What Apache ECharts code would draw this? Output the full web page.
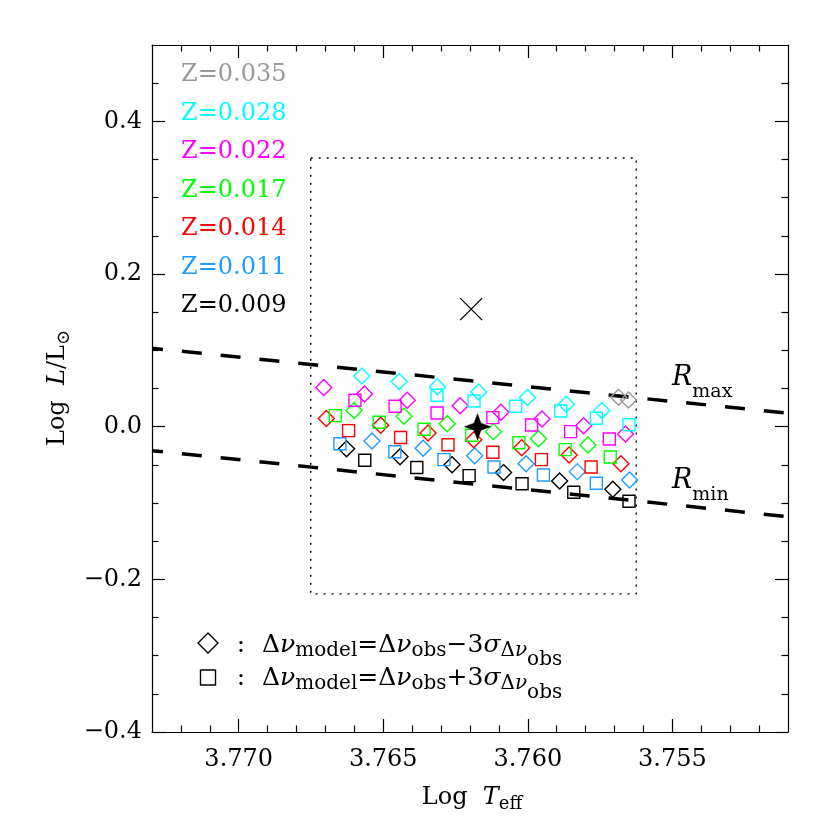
<!DOCTYPE html>
<html><head><meta charset="utf-8">
<script src="https://cdn.jsdelivr.net/npm/echarts@6/dist/echarts.min.js"></script>
<style>html,body{margin:0;padding:0;background:#fff}#c{width:830px;height:830px}</style>
</head><body><div id="c"></div>
<script>
// ---------- axes ----------
const xRange = [3.751, 3.773];
const yRange = [-0.4, 0.5];
const xMajorTicks = [3.755, 3.760, 3.765, 3.770];
const xMinorTicks = [3.752,3.753,3.754,3.756,3.757,3.758,3.759,3.761,3.762,3.763,3.764,3.766,3.767,3.768,3.769,3.771,3.772];
const yMajorTicks = [-0.4, -0.2, 0.0, 0.2, 0.4];
const yMinorTicks = [-0.35,-0.3,-0.25,-0.15,-0.1,-0.05,0.05,0.1,0.15,0.25,0.3,0.35,0.45];

// ---------- metallicity groups ----------
const zLabels = ['Z=0.035','Z=0.028','Z=0.022','Z=0.017','Z=0.014','Z=0.011','Z=0.009'];
const zColors = ['#999999','#00ffff','#ff00ff','#00ff00','#ff0000','#1e9bff','#000000'];

// [log Teff, log L/Lsun]
const z035Diamonds = [[3.75686,0.0386],[3.75652,0.0350]];
const z035Squares = [];
const z028Diamonds = [[3.76574,0.0664],[3.76445,0.0592],[3.76313,0.0524],[3.76170,0.0454],[3.76001,0.0382],[3.75867,0.0293],[3.75744,0.0212]];
const z028Squares = [[3.76314,0.0411],[3.76186,0.0337],[3.76042,0.0267],[3.75886,0.0206],[3.75763,0.0110],[3.75650,0.0025]];
const z022Diamonds = [[3.76706,0.0513],[3.76565,0.0428],[3.76417,0.0347],[3.76234,0.0274],[3.76093,0.0189],[3.75951,0.0101],[3.75807,0.0013],[3.75662,-0.0096]];
const z022Squares = [[3.76598,0.0346],[3.76459,0.0267],[3.76314,0.0179],[3.76121,0.0118],[3.75987,0.0022],[3.75852,-0.0065],[3.75718,-0.0161]];
const z017Diamonds = [[3.76601,0.0212],[3.76428,0.0136],[3.76279,0.0039],[3.76119,-0.0065],[3.75963,-0.0157],[3.75792,-0.0240]];
const z017Squares = [[3.76666,0.0144],[3.76514,0.0058],[3.76359,-0.0034],[3.76194,-0.0113],[3.76031,-0.0210],[3.75871,-0.0301],[3.75715,-0.0397]];
const z014Diamonds = [[3.76697,0.0107],[3.76509,0.0020],[3.76345,-0.0083],[3.76187,-0.0172],[3.76021,-0.0275],[3.75857,-0.0371],[3.75678,-0.0485]];
const z014Squares = [[3.76620,-0.0052],[3.76440,-0.0141],[3.76276,-0.0237],[3.76121,-0.0335],[3.75953,-0.0432],[3.75781,-0.0528]];
const z011Diamonds = [[3.76539,-0.0187],[3.76362,-0.0282],[3.76184,-0.0381],[3.76006,-0.0485],[3.75829,-0.0589],[3.75648,-0.0698]];
const z011Squares = [[3.76650,-0.0223],[3.76460,-0.0329],[3.76290,-0.0432],[3.76117,-0.0528],[3.75946,-0.0633],[3.75763,-0.0741]];
const z009Diamonds = [[3.76627,-0.0288],[3.76442,-0.0393],[3.76262,-0.0498],[3.76084,-0.0602],[3.75890,-0.0711],[3.75706,-0.0819]];
const z009Squares = [[3.76564,-0.0439],[3.76384,-0.0534],[3.76203,-0.0642],[3.76020,-0.0747],[3.75841,-0.0859],[3.75650,-0.0977]];

const diamondGroups = [z035Diamonds, z028Diamonds, z022Diamonds, z017Diamonds, z014Diamonds, z011Diamonds, z009Diamonds];
const squareGroups = [z035Squares, z028Squares, z022Squares, z017Squares, z014Squares, z011Squares, z009Squares];

// ---------- other marks ----------
const boxTeff = [3.76751, 3.75625];
const boxLogL = [-0.2191, 0.3519];
const rLineTeff = [3.773, 3.751];
const rMaxLogL = [0.1027, 0.0176];
const rMinLogL = [-0.0314, -0.1179];
const crossPoint = [3.76196, 0.154];
const starPoint = [3.76174, 0.0];

// ---------- build ----------
const FONT = 'DejaVu Serif';
const chart = echarts.init(document.getElementById('c'), null, {renderer: 'canvas'});

function fmtX(v){ return Number(v).toFixed(3); }
function fmtY(v){ const s = Math.abs(v).toFixed(1); return v < -1e-9 ? '\u2212' + s : s; }

function xAx(pos, ticks, len, showLine, showLabel) {
  return {
    type: 'value', position: pos, min: xRange[0], max: xRange[1], inverse: true,
    splitLine: {show: false},
    axisLine: {show: showLine, onZero: false, lineStyle: {color: '#000', width: 1.2}},
    axisTick: {show: true, inside: true, length: len, customValues: ticks, lineStyle: {color: '#000', width: 1.2}},
    axisLabel: {show: showLabel, customValues: xMajorTicks, margin: 16, formatter: fmtX,
      fontFamily: FONT, fontSize: 24, color: '#000'}
  };
}
function yAx(pos, ticks, len, showLine, showLabel) {
  return {
    type: 'value', position: pos, min: yRange[0], max: yRange[1],
    splitLine: {show: false},
    axisLine: {show: showLine, onZero: false, lineStyle: {color: '#000', width: 1.2}},
    axisTick: {show: true, inside: true, length: len, customValues: ticks, lineStyle: {color: '#000', width: 1.2}},
    axisLabel: {show: showLabel, customValues: yMajorTicks, margin: 10, formatter: fmtY,
      fontFamily: FONT, fontSize: 24, color: '#000'}
  };
}

const series = [];
// dotted error box
series.push({
  type: 'line', xAxisIndex: 0, yAxisIndex: 0, symbol: 'none', silent: true, z: 1,
  data: [[boxTeff[0], boxLogL[1]], [boxTeff[1], boxLogL[1]], [boxTeff[1], boxLogL[0]], [boxTeff[0], boxLogL[0]], [boxTeff[0], boxLogL[1]]],
  lineStyle: {color: '#000', width: 1.4, type: [2, 6]}
});
// constant radius lines
[rMaxLogL, rMinLogL].forEach(arr => {
  series.push({
    type: 'line', xAxisIndex: 0, yAxisIndex: 0, symbol: 'none', silent: true, z: 2,
    data: [[rLineTeff[0], arr[0]], [rLineTeff[1], arr[1]]],
    lineStyle: {color: '#000', width: 3.5, type: [20, 19], dashOffset: 9}
  });
});
// markers (black first, grey last)
for (let i = zColors.length - 1; i >= 0; i--) {
  series.push({
    type: 'scatter', xAxisIndex: 0, yAxisIndex: 0, symbol: 'diamond', symbolSize: 16, z: 3,
    data: diamondGroups[i],
    itemStyle: {color: 'rgba(0,0,0,0)', borderColor: zColors[i], borderWidth: 1.4, opacity: 1}
  });
  series.push({
    type: 'scatter', xAxisIndex: 0, yAxisIndex: 0, symbol: 'rect', symbolSize: 12, z: 3,
    data: squareGroups[i],
    itemStyle: {color: 'rgba(0,0,0,0)', borderColor: zColors[i], borderWidth: 1.4, opacity: 1}
  });
}
series.push({
  type: 'scatter', xAxisIndex: 0, yAxisIndex: 0, z: 5,
  symbol: 'path://M0,0L10,10M10,0L0,10', symbolSize: 22,
  data: [crossPoint],
  itemStyle: {color: 'rgba(0,0,0,0)', borderColor: '#000', borderWidth: 1.3, opacity: 1}
});
series.push({
  type: 'scatter', xAxisIndex: 0, yAxisIndex: 0, z: 6,
  symbol: 'path://M13,0 L16.5,9.5 L26,13 L16.5,16.5 L13,26 L9.5,16.5 L0,13 L9.5,9.5 Z', symbolSize: 26,
  data: [starPoint],
  itemStyle: {color: '#000', borderColor: '#000', borderWidth: 0.5, opacity: 1}
});

// graphics: texts
const graphics = [];
const zLabelY = [75, 113.5, 152, 190.5, 229, 267.5, 306];
zLabels.forEach((t, i) => {
  graphics.push({type: 'text', x: 181, y: zLabelY[i], z: 10,
    style: {text: t, fill: zColors[i], fontFamily: FONT, fontSize: 24, align: 'left', verticalAlign: 'middle', textAlign: 'left', textVerticalAlign: 'middle'}});
});

const richBase = {
  m: {fontFamily: FONT, fontSize: 24, fill: '#000', verticalAlign: 'middle'},
  mi: {fontFamily: FONT, fontSize: 24, fontStyle: 'italic', fill: '#000', verticalAlign: 'middle'},
  s: {fontFamily: FONT, fontSize: 18, fill: '#000', padding: [12, 0, 0, 0], verticalAlign: 'middle'},
  lm: {fontFamily: FONT, fontSize: 25, fill: '#000', verticalAlign: 'middle'},
  lmi: {fontFamily: FONT, fontSize: 25, fontStyle: 'italic', fill: '#000', verticalAlign: 'middle'},
  ls: {fontFamily: FONT, fontSize: 20, fill: '#000', padding: [12, 0, 0, 0], verticalAlign: 'middle'},
  lsi: {fontFamily: FONT, fontSize: 20, fontStyle: 'italic', fill: '#000', padding: [12, 0, 0, 0], verticalAlign: 'middle'},
  lss: {fontFamily: FONT, fontSize: 20, fill: '#000', padding: [30, 0, 0, 0], verticalAlign: 'middle'},
  R: {fontFamily: FONT, fontSize: 27, fontStyle: 'italic', fill: '#000', verticalAlign: 'middle'},
  rs: {fontFamily: FONT, fontSize: 19, fill: '#000', padding: [28, 0, 0, 0], verticalAlign: 'middle'}
};
function rich(x, y, text, align, extra) {
  return Object.assign({type: 'text', x: x, y: y, z: 10,
    style: {text: text, rich: richBase, align: align, verticalAlign: 'middle', textAlign: align, textVerticalAlign: 'middle'}}, extra || {});
}

// legend keys
graphics.push({type: 'polygon', z: 10, shape: {points: [[208,633],[218,643],[208,653],[198,643]]},
  style: {fill: 'none', stroke: '#000', lineWidth: 1.4}});
graphics.push({type: 'rect', z: 10, shape: {x: 200.5, y: 670, width: 15, height: 15},
  style: {fill: 'none', stroke: '#000', lineWidth: 1.4}});
graphics.push(rich(241, 645, '{lm|:}', 'center'));
graphics.push(rich(241, 678, '{lm|:}', 'center'));
graphics.push(rich(262, 645, '{lm|\u0394}{lmi|\u03bd}{ls|model}{lm|=\u0394}{lmi|\u03bd}{ls|obs}{lm|\u22123}{lmi|\u03c3}{ls|\u0394}{lsi|\u03bd}{lss|obs}', 'left'));
graphics.push(rich(262, 678, '{lm|\u0394}{lmi|\u03bd}{ls|model}{lm|=\u0394}{lmi|\u03bd}{ls|obs}{lm|+3}{lmi|\u03c3}{ls|\u0394}{lsi|\u03bd}{lss|obs}', 'left'));

// R labels
graphics.push(rich(672, 378, '{R|R}{rs|max}', 'left'));
graphics.push(rich(672, 481, '{R|R}{rs|min}', 'left'));

// axis titles
graphics.push(rich(472, 798, '{m|Log  }{mi|T}{s|eff}', 'center'));
graphics.push(rich(58, 388, '{m|Log  }{mi|L}{m|/L}{s|\u2299}', 'center', {rotation: Math.PI / 2}));

chart.setOption({
  animation: false,
  backgroundColor: '#fff',
  grid: {left: 152, top: 45, right: 42, bottom: 98, containLabel: false},
  xAxis: [
    xAx('bottom', xMajorTicks, 13, true, true),
    xAx('bottom', xMinorTicks, 6.5, false, false),
    xAx('top', xMajorTicks, 13, true, false),
    xAx('top', xMinorTicks, 6.5, false, false)
  ],
  yAxis: [
    yAx('left', yMajorTicks, 13, true, true),
    yAx('left', yMinorTicks, 6.5, false, false),
    yAx('right', yMajorTicks, 13, true, false),
    yAx('right', yMinorTicks, 6.5, false, false)
  ],
  series: series,
  graphic: graphics
});
</script>
</body></html>
